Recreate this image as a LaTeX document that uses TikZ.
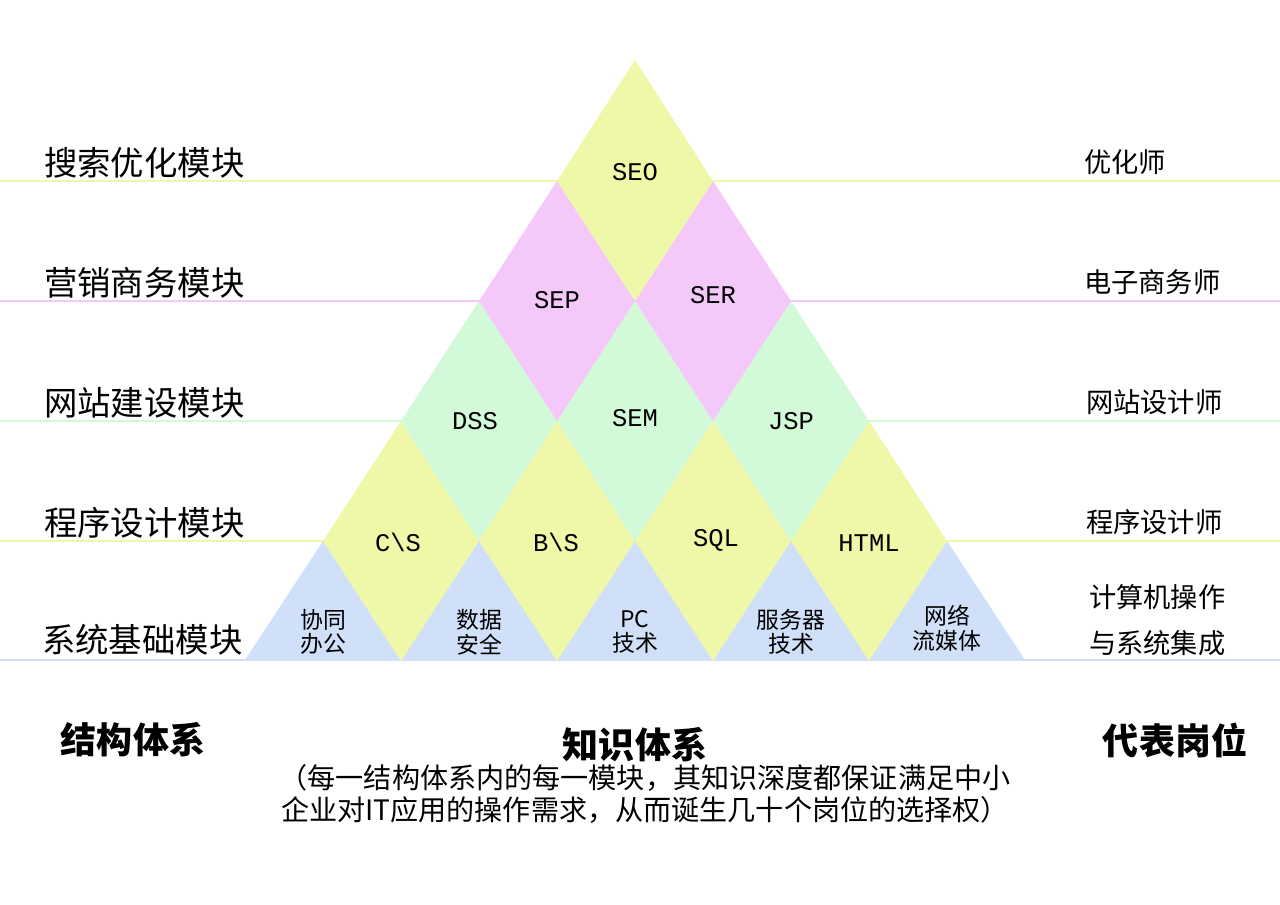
\documentclass[tikz,border=0pt]{standalone}
\usepackage{fontspec}
\setmainfont{Noto Sans CJK SC}
\newfontfamily\tilefont{Liberation Mono}
\usetikzlibrary{positioning}
\definecolor{lime}{HTML}{EEF8A8}
\definecolor{rose}{HTML}{F4C8F8}
\definecolor{mint}{HTML}{D2FAD8}
\definecolor{sky}{HTML}{D0E0F8}
\tikzset{
  rowline/.style={line width=1.2pt},
  tile/.style={font=\tilefont\fontsize{14.5pt}{16pt}\selectfont},
  basetile/.style={font=\fontsize{13pt}{14pt}\selectfont,align=center},
  side/.style={font=\fontsize{19pt}{22pt}\selectfont},
  job/.style={font=\fontsize{15.5pt}{18pt}\selectfont,anchor=west},
  head/.style={font=\fontsize{20.5pt}{24pt}\selectfont\bfseries}
}
\begin{document}
\begin{tikzpicture}[x=0.02cm,y=-0.02cm]
  \useasboundingbox (0,0) rectangle (1280,905);

  % row lines
  \foreach \yy/\cc in {181/lime,301/rose,421/mint,541/lime,660/sky}
    \draw[rowline,\cc] (0,\yy) -- (1280,\yy);

  % bottom triangles
  \foreach \xx in {323,479,635,791,947}
    \fill[sky] (\xx,541) -- (\xx+78,660) -- (\xx-78,660) -- cycle;

  % diamonds
  \foreach \xx/\yy/\cc in {401/541/lime,557/541/lime,713/541/lime,869/541/lime,
                           479/421/mint,635/421/mint,791/421/mint,
                           557/301/rose,713/301/rose}
    \fill[\cc] (\xx,\yy-120) -- (\xx+78,\yy) -- (\xx,\yy+120) -- (\xx-78,\yy) -- cycle;
  \fill[lime] (635,60) -- (713,181) -- (635,301) -- (557,181) -- cycle;

  % tile labels
  \node[tile] (seo) at (635,172) {SEO};
  \node[tile] (sep) at (557,300) {SEP};
  \node[tile] (ser) at (713,295) {SER};
  \node[tile] (dss) at (475,421) {DSS};
  \node[tile] (sem) at (635,418) {SEM};
  \node[tile] (jsp) at (791,421) {JSP};
  \node[tile] (cs) at (398,542) {C\textbackslash S};
  \node[tile] (bs) at (556,542) {B\textbackslash S};
  \node[tile] (sql) at (716,540) {SQL};
  \node[tile] (html) at (869,543) {HTML};
  \node[basetile] (office) at (323,632) {协同\\办公};
  \node[basetile] (secur) at (479,632) {数据\\安全};
  \node[basetile] (pc) at (635,632) {PC\\技术};
  \node[basetile] (server) at (791,632) {服务器\\技术};
  \node[basetile] (media) at (947,628) {网络\\流媒体};

  % left labels
  \node[side,anchor=west] (m1) at (38,163) {搜索优化模块};
  \node[side,anchor=west] (m2) at (38,283) {营销商务模块};
  \node[side,anchor=west] (m3) at (38,403) {网站建设模块};
  \node[side,anchor=west] (m4) at (38,523) {程序设计模块};
  \node[side,anchor=west] (m5) at (36,640) {系统基础模块};

  % right labels
  \node[job] (j1) at (1078,162) {优化师};
  \node[job] (j2) at (1078,282) {电子商务师};
  \node[job] (j3) at (1080,402) {网站设计师};
  \node[job] (j4) at (1080,522) {程序设计师};
  \node[job,align=left] (j5) at (1083,620) {计算机操作\\[8pt]与系统集成};

  % headings
  \node[head] (h1) at (133,740) {结构体系};
  \node[head] (h2) at (635,745) {知识体系};
  \node[head] (h3) at (1175,740) {代表岗位};
  \node[font=\fontsize{16pt}{18pt}\selectfont,align=center] (note) at (645,794)
    {（每一结构体系内的每一模块，其知识深度都保证满足中小\\企业对IT应用的操作需求，从而诞生几十个岗位的选择权）};
\end{tikzpicture}
\end{document}
